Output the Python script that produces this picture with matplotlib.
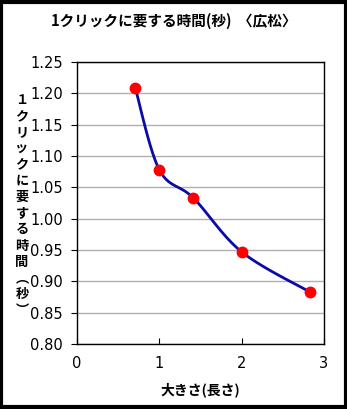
import numpy as np
import matplotlib
matplotlib.use("Agg")
import matplotlib.pyplot as plt
from matplotlib.patches import Rectangle

plt.rcParams['font.family'] = ['Noto Sans CJK JP', 'DejaVu Sans']

# data
sizes = [0.707, 1.0, 1.414, 2.0, 2.828]
click_times = [1.209, 1.078, 1.033, 0.947, 0.883]

title = '1クリックに要する時間(秒)  〈広松〉'
x_label = '大きさ(長さ)'
y_label = '１\nク\nリ\nッ\nク\nに\n要\nす\nる\n時\n間\n︵\n秒\n︶'
y_ticks = [0.80, 0.85, 0.90, 0.95, 1.00, 1.05, 1.10, 1.15, 1.20, 1.25]
x_ticks = [0, 1, 2, 3]


def smooth(xs, ys, n=30):
    # Catmull-Rom style smoothing like a spreadsheet "smoothed line"
    p = np.column_stack([xs, ys])
    p = np.vstack([p[0], p, p[-1]])
    out = []
    for i in range(1, len(p) - 2):
        p0, p1, p2, p3 = p[i - 1], p[i], p[i + 1], p[i + 2]
        t = np.linspace(0, 1, n)[:, None]
        seg = 0.5 * ((2 * p1) + (-p0 + p2) * t + (2 * p0 - 5 * p1 + 4 * p2 - p3) * t ** 2
                     + (-p0 + 3 * p1 - 3 * p2 + p3) * t ** 3)
        out.append(seg)
    out = np.vstack(out)
    return out[:, 0], out[:, 1]


fig = plt.figure(figsize=(3.47, 4.09), dpi=100)
ax = fig.add_axes([77 / 347, 1 - 344 / 409, 247 / 347, 282 / 409])

sx, sy = smooth(sizes, click_times)
ax.plot(sx, sy, color='#0a0aa8', lw=2, zorder=3)
ax.plot(sizes, click_times, 'o', color='#ff0000', ms=7.5, zorder=4)

ax.set_xlim(0, 3)
ax.set_ylim(0.80, 1.25)
ax.set_xticks(x_ticks)
ax.set_yticks(y_ticks)
ax.set_yticklabels([f'{v:.2f}' for v in y_ticks])
ax.grid(axis='y', color='#b0b0b0', lw=1)
ax.set_axisbelow(True)
ax.tick_params(axis='x', direction='in', length=4, pad=9, labelsize=10.5)
ax.tick_params(axis='y', direction='out', length=4, pad=6, labelsize=10.5)
for lab in ax.get_xticklabels() + ax.get_yticklabels():
    lab.set_family('DejaVu Sans')
for s in ax.spines.values():
    s.set_linewidth(1)
    s.set_color('black')

ax.set_xlabel(x_label, fontsize=10, weight='bold', labelpad=8)
fig.suptitle(title, y=1 - 13 / 409, fontsize=10.5, weight='bold')
fig.text(22 / 347, 1 - 205 / 409, y_label, fontsize=9.5, weight='bold',
         ha='center', va='center', linespacing=1.2)

fig.patches.append(Rectangle((0.004, 0.004), 0.992, 0.992, transform=fig.transFigure,
                             fill=False, edgecolor='black', lw=3))

fig.savefig('out.png', dpi=100)
